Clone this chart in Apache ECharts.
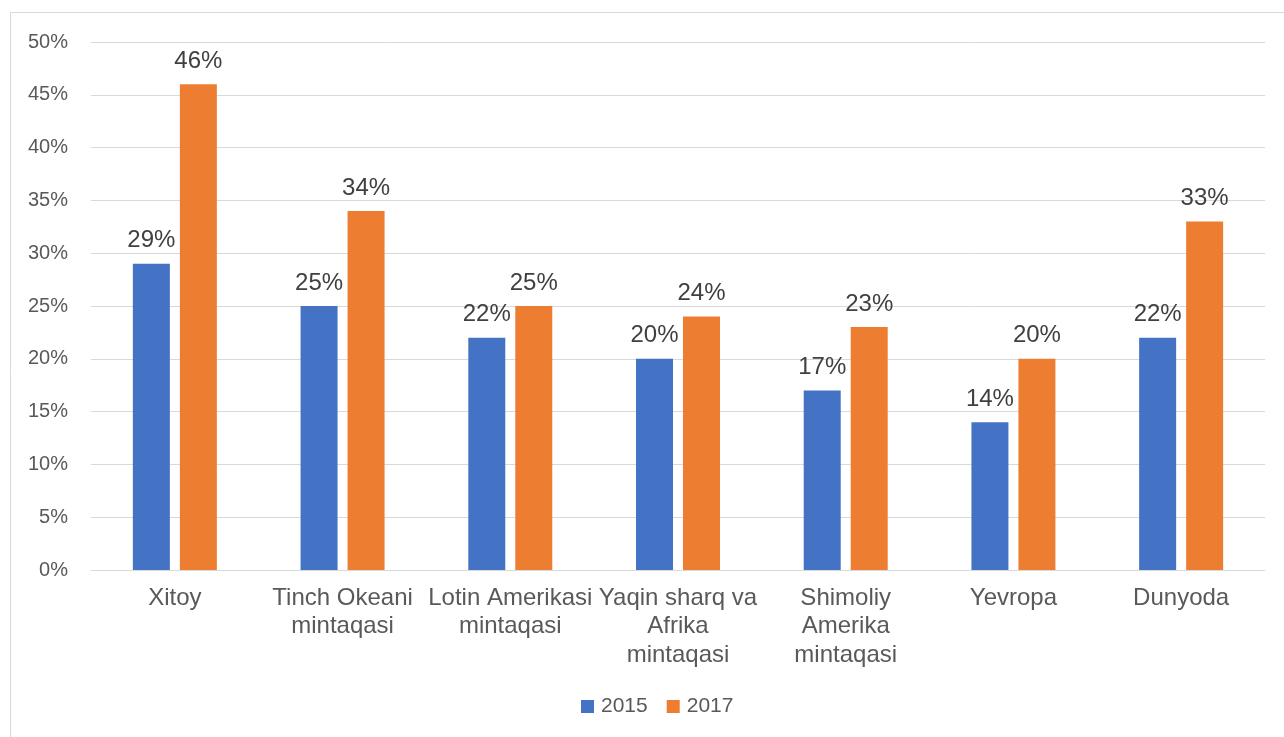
<!DOCTYPE html>
<html>
<head>
<meta charset="utf-8">
<script src="https://cdn.jsdelivr.net/npm/echarts@6/dist/echarts.min.js"></script>
<style>
  html, body { margin: 0; padding: 0; background: #fff; }
  #main { width: 1284px; height: 737px; }
</style>
</head>
<body>
<div id="main"></div>
<script>
// mintaqalar
var categories = [
  'Xitoy',
  'Tinch Okeani\nmintaqasi',
  'Lotin Amerikasi\nmintaqasi',
  'Yaqin sharq va\nAfrika\nmintaqasi',
  'Shimoliy\nAmerika\nmintaqasi',
  'Yevropa',
  'Dunyoda'
]
var values2015 = [29, 25, 22, 20, 17, 14, 22]
var values2017 = [46, 34, 25, 24, 23, 20, 33]
var seriesNames = ['2015', '2017']

var font = 'Liberation Sans, Arial, sans-serif'

var chart = echarts.init(document.getElementById('main'))

var option = {
  animation: false,
  backgroundColor: '#fff',
  graphic: [
    {
      type: 'rect',
      shape: { x: 10.5, y: 12.5, width: 1290, height: 740 },
      style: { fill: 'none', stroke: '#d9d9d9', lineWidth: 1 },
      silent: true
    }
  ],
  grid: { left: 91, right: 19, top: 42, bottom: 167 },
  legend: {
    data: seriesNames,
    bottom: 15,
    left: 576,
    itemWidth: 13,
    itemHeight: 13,
    itemGap: 19,
    icon: 'rect',
    textStyle: { fontFamily: font, fontSize: 21, color: '#595959', padding: [0, 0, 0, 2] }
  },
  xAxis: {
    type: 'category',
    data: categories,
    axisLine: { lineStyle: { color: '#d9d9d9', width: 1 } },
    axisTick: { show: false },
    axisLabel: {
      interval: 0,
      margin: 14,
      fontFamily: font,
      fontSize: 24,
      lineHeight: 28.5,
      color: '#595959'
    }
  },
  yAxis: {
    type: 'value',
    min: 0,
    max: 50,
    interval: 5,
    axisLine: { show: false },
    axisTick: { show: false },
    splitLine: { lineStyle: { color: '#d9d9d9', width: 1 } },
    axisLabel: {
      margin: 23,
      fontFamily: font,
      fontSize: 20,
      color: '#595959',
      formatter: '{value}%'
    }
  },
  series: [
    {
      name: seriesNames[0],
      type: 'bar',
      data: values2015,
      barWidth: 37,
      barGap: '27%',
      itemStyle: { color: '#4472c4' },
      label: {
        show: true,
        position: 'top',
        distance: 11,
        formatter: '{c}%',
        fontFamily: font,
        fontSize: 24,
        color: '#404040'
      }
    },
    {
      name: seriesNames[1],
      type: 'bar',
      data: values2017,
      barWidth: 37,
      barGap: '27%',
      itemStyle: { color: '#ed7d31' },
      label: {
        show: true,
        position: 'top',
        distance: 11,
        formatter: '{c}%',
        fontFamily: font,
        fontSize: 24,
        color: '#404040'
      }
    }
  ]
}

chart.setOption(option)
</script>
</body>
</html>
